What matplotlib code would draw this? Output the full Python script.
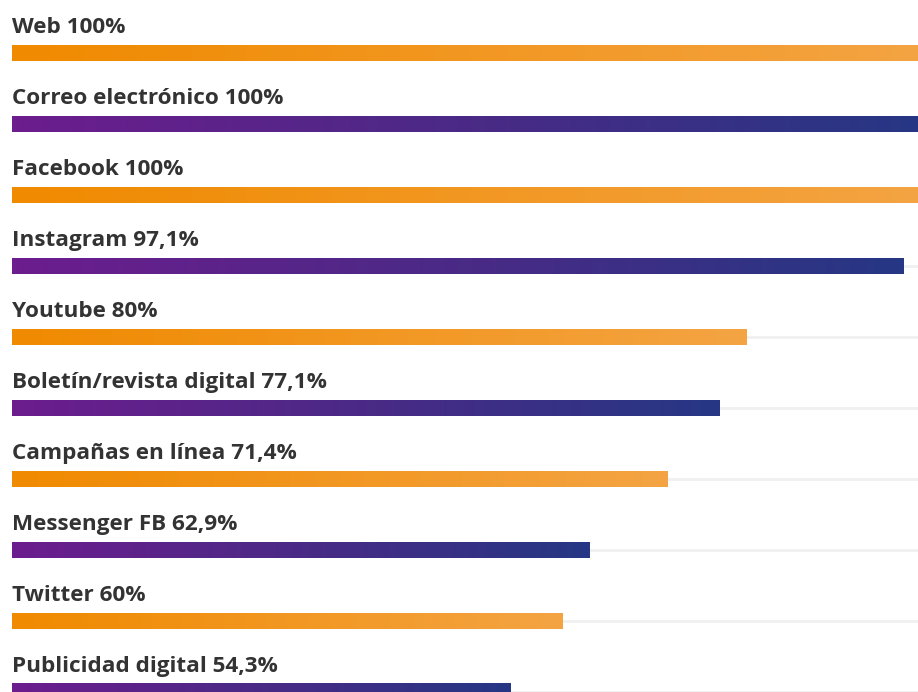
import numpy as np
import matplotlib
matplotlib.use("Agg")
import matplotlib.pyplot as plt
from matplotlib.colors import LinearSegmentedColormap

categories = ["Web", "Correo electrónico", "Facebook", "Instagram", "Youtube",
              "Boletín/revista digital", "Campañas en línea", "Messenger FB",
              "Twitter", "Publicidad digital"]
values = [100, 100, 100, 97.1, 80, 77.1, 71.4, 62.9, 60, 54.3]
value_labels = ["100%", "100%", "100%", "97,1%", "80%", "77,1%", "71,4%",
                "62,9%", "60%", "54,3%"]

W, H = 918, 692
fig = plt.figure(figsize=(W / 100, H / 100), dpi=100)
fig.patch.set_facecolor("white")
ax = fig.add_axes([12 / W, 0, 918 / W, 1])
ax.set_xlim(0, 100)
top_px, step_px = 53, 71
ax.set_ylim((H - top_px) / step_px, -top_px / step_px)
ax.axis("off")

orange = LinearSegmentedColormap.from_list("o", ["#F08A00", "#F4A443"])
purple = LinearSegmentedColormap.from_list("p", ["#6C1D8E", "#4A2A86", "#263784"])
grad = np.linspace(0, 1, 256).reshape(1, -1)
bh = 17 / step_px

for i, (cat, v, lab) in enumerate(zip(categories, values, value_labels)):
    ax.plot([0, 100], [i, i], color="#F0F0F0", lw=2, zorder=1, solid_capstyle="butt")
    bar = ax.barh(i, v, height=bh, color="none", edgecolor="none", zorder=2)[0]
    cmap = orange if i % 2 == 0 else purple
    im = ax.imshow(grad, cmap=cmap, aspect="auto",
                   extent=[0, v, i + bh / 2, i - bh / 2], zorder=3, interpolation="bilinear")
    im.set_clip_path(bar)
    ax.text(0, i - 20 / step_px, f"{cat} {lab}", ha="left", va="baseline",
            fontsize=16.2, fontweight="bold", family=["Open Sans", "DejaVu Sans"],
            color="#333333", zorder=4)

ax.set_xlim(0, 100)
ax.set_ylim((H - top_px) / step_px, -top_px / step_px)
fig.savefig("out.png", dpi=100, facecolor="white")
